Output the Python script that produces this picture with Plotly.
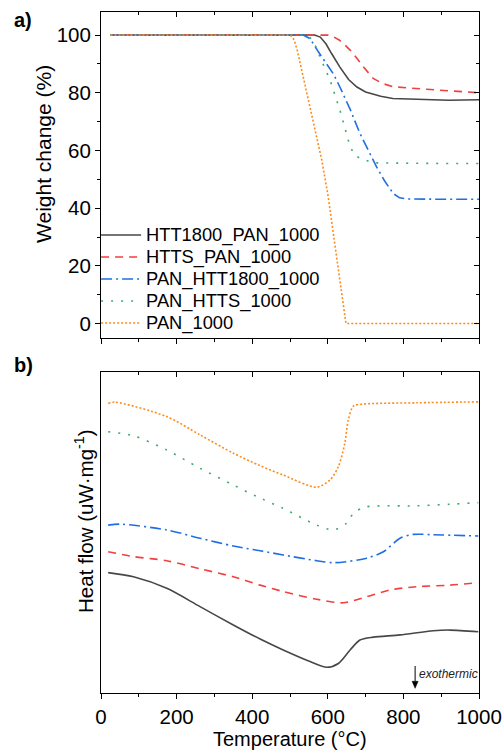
import plotly.graph_objects as go

# ---------------- data: TGA (weight change, %) ----------------
T_htt_pan = [25, 100, 200, 300, 400, 500, 565, 580, 595, 610, 632, 655, 677, 700, 740, 772, 850, 920, 1000]
W_htt_pan = [100, 100, 100, 100, 100, 100, 100, 99.3, 97, 93.6, 88.9, 84.6, 82, 80.3, 78.8, 78, 77.6, 77.4, 77.6]

T_htts_pan = [25, 100, 200, 300, 400, 500, 600, 615, 630, 645, 659, 677, 694, 720, 745, 773, 820, 862, 930, 1000]
W_htts_pan = [100, 100, 100, 100, 100, 100, 100, 99.4, 98.3, 96.6, 94.8, 92, 89, 85, 83.2, 82.1, 81.5, 81.2, 80.6, 80]

T_pan_htt = [25, 100, 200, 300, 400, 500, 535, 550, 562, 575, 597, 615, 632, 660, 685, 705, 729, 750, 773, 790, 810, 900, 1000]
W_pan_htt = [100, 100, 100, 100, 100, 100, 100, 99, 97, 94.2, 90.2, 86.5, 82, 74, 65.9, 60.5, 54.3, 49.5, 45.1, 43.6, 43.2, 43.1, 43.1]

T_pan_htts = [25, 100, 200, 300, 400, 500, 545, 558, 568, 579, 606, 632, 659, 672, 685, 720, 800, 900, 1000]
W_pan_htts = [100, 100, 100, 100, 100, 100, 100, 98.5, 96, 92.5, 84.4, 74, 61.3, 58.3, 57.3, 55.7, 55.5, 55.5, 55.5]

T_pan = [25, 100, 200, 300, 400, 500, 507, 513, 520, 535, 562, 584, 601, 624, 648, 660, 800, 1000]
W_pan = [100, 100, 100, 100, 100, 100, 99.3, 97.5, 94.3, 85.5, 69.4, 56.7, 44, 22, 0, 0, 0, 0]

# ---------------- data: DSC (heat flow, arbitrary offset units) ----------------
D_T_htt_pan = [19, 86, 174, 262, 350, 421, 482, 553, 597, 628, 659, 685, 720, 791, 879, 923, 998]
D_H_htt_pan = [37.5, 36.2, 32.6, 26.9, 21.2, 16.8, 13.4, 9.8, 8.0, 9.2, 13.4, 16.5, 17.4, 18.1, 19.4, 19.6, 19.1]

D_T_htts_pan = [19, 86, 174, 262, 350, 421, 482, 571, 641, 703, 765, 835, 923, 998]
D_H_htts_pan = [44, 42.5, 41.2, 38.7, 36.2, 33.6, 31.6, 29.2, 28.1, 30, 32.1, 33.1, 33.6, 34.4]

D_T_pan_htt = [19, 50, 174, 262, 350, 421, 482, 571, 619, 703, 747, 791, 826, 879, 998]
D_H_pan_htt = [52.3, 52.6, 50.8, 48.2, 45.8, 44.3, 43, 41.2, 40.6, 42, 44, 48.2, 49.4, 49.3, 48.9]

D_T_pan_htts = [19, 86, 174, 262, 350, 412, 482, 571, 615, 650, 668, 698, 835, 923, 998]
D_H_pan_htts = [81.4, 80.1, 75.7, 70, 64.8, 61.2, 57.5, 52.3, 50.8, 52.9, 56, 57.9, 58.3, 58.8, 59.3]

D_T_pan = [19, 37, 174, 262, 350, 421, 482, 571, 606, 628, 645, 654, 668, 694, 835, 998]
D_H_pan = [90.2, 90.6, 86.1, 80.4, 74.7, 70.8, 67.9, 64.1, 66.4, 70.5, 77.8, 85, 89.4, 90, 90.4, 90.7]

names = ["HTT1800_PAN_1000", "HTTS_PAN_1000", "PAN_HTT1800_1000", "PAN_HTTS_1000", "PAN_1000"]
colors = ["#474747", "#F0403F", "#1F6FE3", "#3DAA6C", "#FF8C1A"]
dashes = ["solid", "8px,6px", "11px,4px,2px,4px", "2px,8px", "2px,2px"]

x_ticks = [0, 200, 400, 600, 800, 1000]
y_ticks = [0, 20, 40, 60, 80, 100]

tga = [(T_htt_pan, W_htt_pan), (T_htts_pan, W_htts_pan), (T_pan_htt, W_pan_htt),
       (T_pan_htts, W_pan_htts), (T_pan, W_pan)]
dsc = [(D_T_htt_pan, D_H_htt_pan), (D_T_htts_pan, D_H_htts_pan), (D_T_pan_htt, D_H_pan_htt),
       (D_T_pan_htts, D_H_pan_htts), (D_T_pan, D_H_pan)]

FONT = "Liberation Sans, Arial, sans-serif"
TICKSIZE = 20.5

fig = go.Figure()
for (t, w), n, c, d in zip(tga, names, colors, dashes):
    fig.add_trace(go.Scatter(x=t, y=w, name='<span style="font-size:18.3px">%s</span>' % n,
                             mode="lines", line=dict(color=c, width=1.6, dash=d),
                             xaxis="x", yaxis="y"))
for (t, h), n, c, d in zip(dsc, names, colors, dashes):
    fig.add_trace(go.Scatter(x=t, y=h, name=n, mode="lines", showlegend=False,
                             line=dict(color=c, width=1.6, dash=d, shape="spline", smoothing=0.8),
                             xaxis="x2", yaxis="y2"))
# dummy traces to anchor overlay (mirror) axes
for xa, ya in [("x3", "y"), ("x", "y3"), ("x4", "y2")]:
    fig.add_trace(go.Scatter(x=[None], y=[None], xaxis=xa, yaxis=ya,
                             showlegend=False, hoverinfo="skip"))

top_dom = [0.5213, 1.0]
bot_dom = [0.0, 0.4714]
xr = [0, 1000]
axis_common = dict(showgrid=False, zeroline=False, automargin=False,
                   tickcolor="#000", tickfont=dict(family=FONT, size=TICKSIZE, color="#000"))
line_style = dict(linecolor="#000", linewidth=1)

fig.update_layout(
    width=503, height=752,
    margin=dict(l=101, r=24, t=12, b=59),
    paper_bgcolor="white", plot_bgcolor="white",
    font=dict(family=FONT, size=19, color="#000"),
    showlegend=True,
    legend=dict(x=-0.013, y=0.696, xanchor="left", yanchor="top",
                bgcolor="rgba(0,0,0,0)", borderwidth=0,
                font=dict(family=FONT, size=14.6, color="#000"),
                itemwidth=40, tracegroupgap=0),
    xaxis=dict(domain=[0, 1], anchor="y", range=xr, tickvals=x_ticks,
               showticklabels=False, ticks="outside", ticklen=5, mirror=True,
               minor=dict(dtick=100, tick0=0, ticks="outside", ticklen=3, tickcolor="#000"),
               **axis_common, **line_style),
    yaxis=dict(domain=top_dom, anchor="x", range=[-5, 108], tickvals=y_ticks,
               ticks="outside", ticklen=5, mirror=True,
               minor=dict(dtick=10, tick0=0, ticks="outside", ticklen=3, tickcolor="#000"),
               **axis_common, **line_style),
    xaxis3=dict(overlaying="x", side="top", anchor="y", range=xr, tickvals=x_ticks,
                showticklabels=False, ticks="inside", ticklen=5, showline=False,
                minor=dict(dtick=100, tick0=0, ticks="inside", ticklen=3, tickcolor="#000"),
                **axis_common),
    yaxis3=dict(overlaying="y", side="right", anchor="x", range=[-5, 108], tickvals=y_ticks,
                showticklabels=False, ticks="inside", ticklen=5, showline=False,
                minor=dict(dtick=10, tick0=0, ticks="inside", ticklen=3, tickcolor="#000"),
                **axis_common),
    xaxis2=dict(domain=[0, 1], anchor="y2", range=xr, tickvals=x_ticks,
                ticks="outside", ticklen=5, mirror=True,
                minor=dict(dtick=100, tick0=0, ticks="outside", ticklen=3, tickcolor="#000"),
                **axis_common, **line_style),
    yaxis2=dict(domain=bot_dom, anchor="x2", range=[0, 100], showticklabels=False,
                ticks="", mirror=True, **axis_common, **line_style),
    xaxis4=dict(overlaying="x2", side="top", anchor="y2", range=xr, tickvals=x_ticks,
                showticklabels=False, ticks="inside", ticklen=5, showline=False,
                minor=dict(dtick=100, tick0=0, ticks="inside", ticklen=3, tickcolor="#000"),
                **axis_common),
)

ann = []
ann.append(dict(text="<b>a)</b>", xref="paper", yref="paper", x=-0.2354, y=0.988,
                xanchor="left", yanchor="middle", showarrow=False,
                font=dict(family=FONT, size=20, color="#000")))
ann.append(dict(text="<b>b)</b>", xref="paper", yref="paper", x=-0.2354, y=0.482,
                xanchor="left", yanchor="middle", showarrow=False,
                font=dict(family=FONT, size=20, color="#000")))
ann.append(dict(text="Weight change (%)", xref="paper", yref="paper", x=-0.1508, y=0.7915,
                xanchor="center", yanchor="middle", textangle=-90, showarrow=False,
                font=dict(family=FONT, size=21, color="#000")))
ann.append(dict(text="Heat flow (uW·mg<sup>-1</sup>)", xref="paper", yref="paper", x=-0.045,
                y=0.2526, xanchor="center", yanchor="middle", textangle=-90, showarrow=False,
                font=dict(family=FONT, size=20.5, color="#000")))
ann.append(dict(text="Temperature (°C)", xref="paper", yref="paper", x=0.5, y=-0.067,
                xanchor="center", yanchor="middle", showarrow=False,
                font=dict(family=FONT, size=20, color="#000")))
ann.append(dict(text="<i>exothermic</i>", xref="x2", yref="y2", x=836, y=5.9,
                xanchor="left", yanchor="middle", showarrow=False,
                font=dict(family=FONT, size=12, color="#222")))
fig.update_layout(annotations=ann)

# "exothermic" arrow (stem + filled head), placed in the DSC panel
arrow_x, head_tip, head_base, stem_top = 831, 1.46, 3.64, 8.41
fig.add_shape(type="line", xref="x2", yref="y2", x0=arrow_x, x1=arrow_x,
              y0=head_base, y1=stem_top, line=dict(color="#000", width=1))
fig.add_shape(type="path", xref="x2", yref="y2",
              path="M %g,%g L %g,%g L %g,%g Z" % (arrow_x - 8, head_base, arrow_x + 8, head_base,
                                                  arrow_x, head_tip),
              fillcolor="#000", line=dict(color="#000", width=0.5))

fig.write_html("out.html")
